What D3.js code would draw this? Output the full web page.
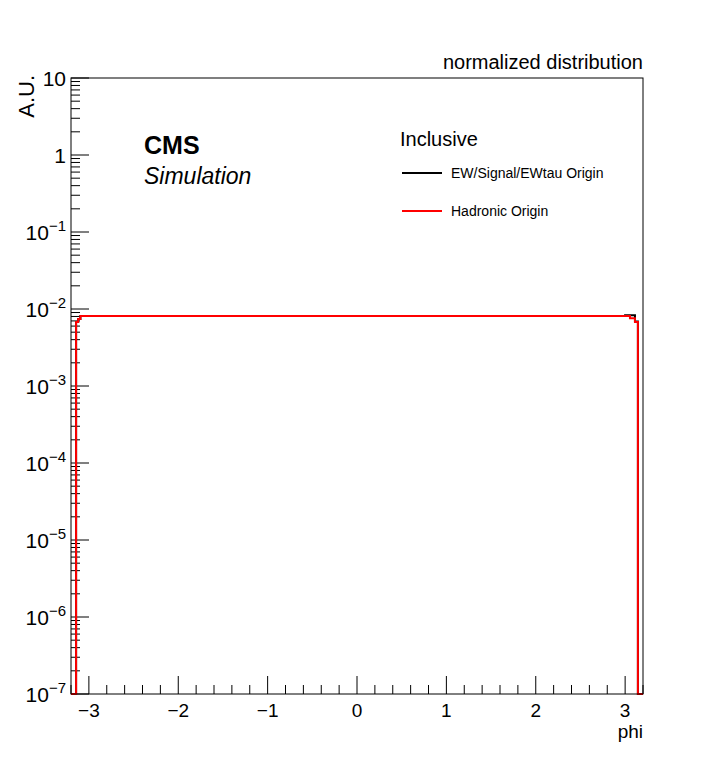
<!DOCTYPE html>
<html>
<head>
<meta charset="utf-8">
<script src="https://cdn.jsdelivr.net/npm/d3@7"></script>
<style>
  body { margin: 0; background: #fff; }
  text { font-family: "Liberation Sans", Arial, sans-serif; }
</style>
</head>
<body>
<div id="chart"></div>
<script>
// bin edges (phi) and contents for each histogram
const ewEdges   = [-3.2, -3.143, -3.12, -3.095, 3.0, 3.11, 3.143, 3.2];
const ewValues  = [0, 0.0068, 0.0074, 0.0081, 0.0083, 0.0069, 0];
const hadEdges  = [-3.2, -3.143, -3.12, -3.095, 3.054, 3.11, 3.143, 3.2];
const hadValues = [0, 0.0068, 0.0074, 0.0081, 0.0076, 0.0068, 0];

const xMajor = [-3, -2, -1, 0, 1, 2, 3];
const yDecades = [-7, -6, -5, -4, -3, -2, -1, 0, 1];

const width = 716, height = 772;
const margin = { top: 78, right: 73, bottom: 78, left: 71 };
const w = width - margin.left - margin.right;
const h = height - margin.top - margin.bottom;

const svg = d3.select('#chart').append('svg')
  .attr('width', width)
  .attr('height', height);

const g = svg.append('g')
  .attr('transform', `translate(${margin.left},${margin.top})`);

const x = d3.scaleLinear().domain([-3.2, 3.2]).range([0, w]);
const yMin = 1e-7, yMax = 10;
const y = d3.scaleLog().domain([yMin, yMax]).range([h, 0]);

// minor ticks on x (every 0.2)
const xMinor = d3.range(-32, 33, 2).map(d => d / 10).filter(d => !xMajor.includes(d));
g.selectAll('.xminor').data(xMinor).enter().append('line')
  .attr('x1', d => x(d)).attr('x2', d => x(d))
  .attr('y1', h).attr('y2', h - 9)
  .attr('stroke', '#000');
g.selectAll('.xmajor').data(xMajor).enter().append('line')
  .attr('x1', d => x(d)).attr('x2', d => x(d))
  .attr('y1', h).attr('y2', h - 18)
  .attr('stroke', '#000');

// y ticks: decades + 2..9
const yMinor = [];
yDecades.slice(0, -1).forEach(e => {
  for (let k = 2; k <= 9; k++) yMinor.push(k * Math.pow(10, e));
});
g.selectAll('.yminor').data(yMinor).enter().append('line')
  .attr('x1', 0).attr('x2', 9)
  .attr('y1', d => y(d)).attr('y2', d => y(d))
  .attr('stroke', '#000');
g.selectAll('.ymajor').data(yDecades).enter().append('line')
  .attr('x1', 0).attr('x2', 18)
  .attr('y1', d => y(Math.pow(10, d))).attr('y2', d => y(Math.pow(10, d)))
  .attr('stroke', '#000');

// x tick labels
g.selectAll('.xlab').data(xMajor).enter().append('text')
  .attr('x', d => x(d))
  .attr('y', h + 23)
  .attr('text-anchor', 'middle')
  .style('font-size', '19px')
  .text(d => d < 0 ? '\u2212' + Math.abs(d) : d);

// y tick labels
yDecades.forEach(e => {
  const t = g.append('text')
    .attr('x', -5)
    .attr('y', y(Math.pow(10, e)) + 8)
    .attr('text-anchor', 'end')
    .style('font-size', '21px');
  if (e === 0) t.text('1');
  else if (e === 1) t.text('10');
  else {
    t.append('tspan').text('10');
    t.append('tspan').attr('dy', -9).style('font-size', '15px').text('\u2212' + Math.abs(e));
  }
});

// histograms
const stepPoints = (edges, vals) => {
  const pts = [];
  vals.forEach((v, i) => {
    const vv = Math.max(v, yMin);
    pts.push([edges[i], vv], [edges[i + 1], vv]);
  });
  return pts;
};
const line = d3.line().x(d => x(d[0])).y(d => y(d[1]));

g.append('path')
  .attr('d', line(stepPoints(ewEdges, ewValues)))
  .attr('fill', 'none').attr('stroke', '#000').attr('stroke-width', 2);
g.append('path')
  .attr('d', line(stepPoints(hadEdges, hadValues)))
  .attr('fill', 'none').attr('stroke', '#ff0000').attr('stroke-width', 2);

// frame
g.append('rect')
  .attr('width', w).attr('height', h)
  .attr('fill', 'none').attr('stroke', '#000').attr('stroke-width', 1);

// axis titles
svg.append('text')
  .attr('x', margin.left + w)
  .attr('y', 738)
  .attr('text-anchor', 'end')
  .style('font-size', '19px')
  .text('phi');
svg.append('text')
  .attr('transform', `translate(34,${margin.top - 3}) rotate(-90)`)
  .attr('text-anchor', 'end')
  .style('font-size', '22px')
  .text('A.U.');

svg.append('text')
  .attr('x', margin.left + w)
  .attr('y', 69)
  .attr('text-anchor', 'end')
  .style('font-size', '20px')
  .text('normalized distribution');

// CMS label
svg.append('text')
  .attr('x', 144).attr('y', 154)
  .style('font-size', '25px').style('font-weight', 'bold')
  .text('CMS');
svg.append('text')
  .attr('x', 144).attr('y', 184)
  .style('font-size', '23px').style('font-style', 'italic')
  .text('Simulation');

// legend
svg.append('text')
  .attr('x', 400).attr('y', 146)
  .style('font-size', '20px')
  .text('Inclusive');
const legend = [
  { label: 'EW/Signal/EWtau Origin', color: '#000', y: 173 },
  { label: 'Hadronic Origin', color: '#ff0000', y: 211 }
];
legend.forEach(d => {
  svg.append('line')
    .attr('x1', 402).attr('x2', 442)
    .attr('y1', d.y).attr('y2', d.y)
    .attr('stroke', d.color).attr('stroke-width', 2);
  svg.append('text')
    .attr('x', 451).attr('y', d.y + 5)
    .style('font-size', '14px')
    .text(d.label);
});
</script>
</body>
</html>
